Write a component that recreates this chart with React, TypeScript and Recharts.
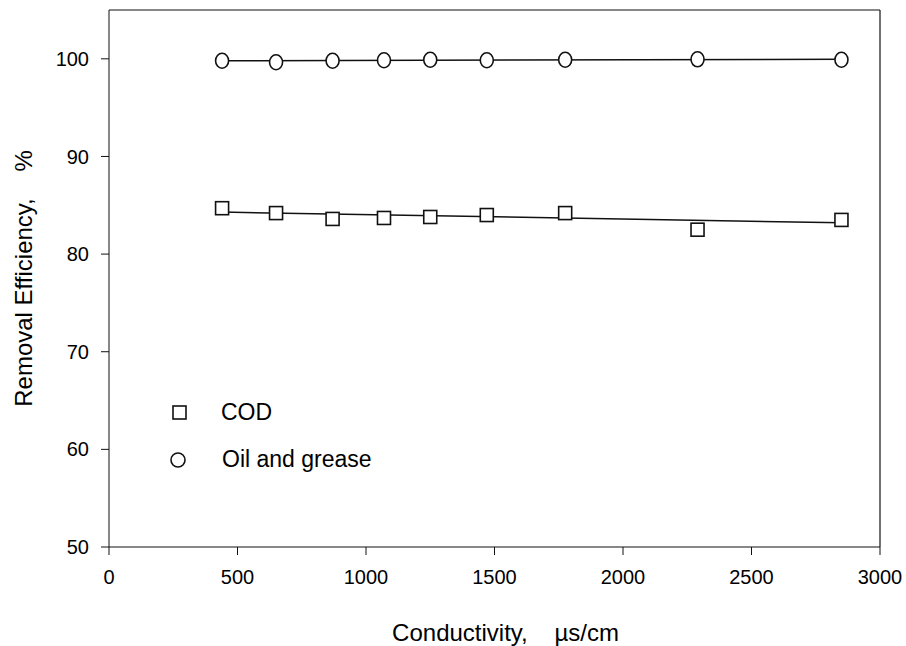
import * as React from 'react';
import {
  ScatterChart,
  Scatter,
  XAxis,
  YAxis,
  ReferenceLine,
  Label,
} from 'recharts';

// conductivity (µs/cm) of each run
const conductivity = [440, 650, 870, 1070, 1250, 1470, 1775, 2290, 2850];
const codRemoval = [84.7, 84.2, 83.6, 83.7, 83.8, 84.0, 84.2, 82.5, 83.5];
const oilRemoval = [99.8, 99.65, 99.8, 99.85, 99.9, 99.85, 99.9, 99.95, 99.9];

// fitted straight lines (end points)
const fitRange = [440, 2850];
const codFit = [84.3, 83.2];
const oilFit = [99.8, 99.95];

const xTicks = [0, 500, 1000, 1500, 2000, 2500, 3000];
const yTicks = [50, 60, 70, 80, 90, 100];

const FONT = '"Liberation Sans", Arial, Helvetica, sans-serif';
const GAP = '\u00a0\u00a0\u00a0\u00a0';

const codPoints = conductivity.map((x, i) => ({ x, y: codRemoval[i] }));
const oilPoints = conductivity.map((x, i) => ({ x, y: oilRemoval[i] }));
const codLine = fitRange.map((x, i) => ({ x, y: codFit[i] }));
const oilLine = fitRange.map((x, i) => ({ x, y: oilFit[i] }));

const SquareMark = (props: any) => {
  const { cx, cy } = props;
  if (cx == null || cy == null) return null;
  return (
    <rect x={cx - 6.5} y={cy - 6.5} width={13} height={13} fill="#fff" stroke="#111" strokeWidth={1.6} />
  );
};

const CircleMark = (props: any) => {
  const { cx, cy } = props;
  if (cx == null || cy == null) return null;
  return <ellipse cx={cx} cy={cy} rx={6.5} ry={7.5} fill="#fff" stroke="#111" strokeWidth={1.6} />;
};

const NoMark = () => null;

// legend drawn as plain html so it doesn't shrink the plot
const ChartLegend = () => (
  <div
    style={{
      position: 'absolute',
      left: 160,
      top: 389,
      fontFamily: FONT,
      fontSize: 23,
      color: '#000',
    }}
  >
    <div style={{ display: 'flex', alignItems: 'center', height: 47 }}>
      <svg width={40} height={20}>
        <rect x={13} y={3} width={13} height={13} fill="#fff" stroke="#111" strokeWidth={1.6} />
      </svg>
      <span style={{ marginLeft: 21 }}>COD</span>
    </div>
    <div style={{ display: 'flex', alignItems: 'center', height: 47 }}>
      <svg width={40} height={20}>
        <circle cx={18} cy={10} r={7} fill="#fff" stroke="#111" strokeWidth={1.6} />
      </svg>
      <span style={{ marginLeft: 22 }}>Oil and grease</span>
    </div>
  </div>
);

export default function App() {
  return (
    <div style={{ position: 'absolute', left: 0, top: 0, background: '#fff' }}>
      <ScatterChart
        width={906}
        height={646}
        margin={{ top: 10, right: 26, left: 0, bottom: 0 }}
      >
        <XAxis
          type="number"
          dataKey="x"
          domain={[0, 3000]}
          ticks={xTicks}
          height={99}
          tickSize={8}
          tickMargin={15}
          stroke="#111"
          tick={{ fill: '#000', fontSize: 20, fontFamily: FONT }}
          allowDataOverflow
        >
          <Label
            value={`Conductivity,${GAP}µs/cm`}
            position="insideBottom"
            offset={5}
            dx={11}
            style={{ fontSize: 24, fontFamily: FONT, fill: '#000' }}
          />
        </XAxis>
        <YAxis
          type="number"
          dataKey="y"
          domain={[50, 105]}
          ticks={yTicks}
          width={109}
          tickSize={8}
          tickMargin={12}
          stroke="#111"
          tick={{ fill: '#000', fontSize: 20, fontFamily: FONT }}
          allowDataOverflow
        >
          <Label
            value={`Removal Efficiency,${GAP}%`}
            position="center"
            angle={-90}
            dx={-31}
            style={{ fontSize: 24, fontFamily: FONT, fill: '#000', textAnchor: 'middle' }}
          />
        </YAxis>
        <ReferenceLine y={105} stroke="#111" strokeWidth={1.2} />
        <ReferenceLine x={3000} stroke="#111" strokeWidth={1.2} />

        <Scatter data={oilLine} line={{ stroke: '#111', strokeWidth: 1.5 }} shape={NoMark} isAnimationActive={false} legendType="none" />
        <Scatter data={codLine} line={{ stroke: '#111', strokeWidth: 1.5 }} shape={NoMark} isAnimationActive={false} legendType="none" />
        <Scatter name="COD" data={codPoints} shape={SquareMark} isAnimationActive={false} />
        <Scatter name="Oil and grease" data={oilPoints} shape={CircleMark} isAnimationActive={false} />
      </ScatterChart>
      <ChartLegend />
    </div>
  );
}
